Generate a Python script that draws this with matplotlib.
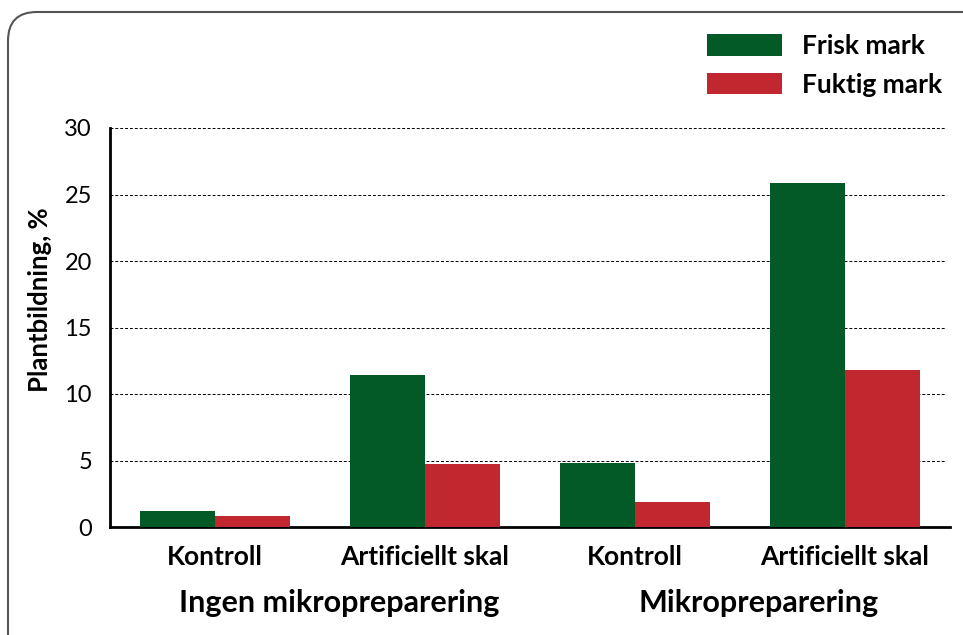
import matplotlib
matplotlib.use("Agg")
import matplotlib.pyplot as plt
from matplotlib.patches import FancyBboxPatch
import numpy as np

categories = ["Kontroll", "Artificiellt skal", "Kontroll", "Artificiellt skal"]
groups = ["Ingen mikropreparering", "Mikropreparering"]
series = ["Frisk mark", "Fuktig mark"]
frisk = [1.2, 11.4, 4.8, 25.9]
fuktig = [0.85, 4.75, 1.85, 11.8]
yticks = [0, 5, 10, 15, 20, 25, 30]

GREEN = "#035a27"
RED = "#c1272f"

plt.rcParams["font.family"] = ["Lato", "DejaVu Sans"]

fig = plt.figure(figsize=(9.63, 6.35), dpi=100)
ax = fig.add_axes([110 / 963, 1 - 527 / 635, 840 / 963, 399 / 635])

x = np.arange(len(categories))
width = 0.357
b1 = ax.bar(x - width / 2, frisk, width, color=GREEN, label=series[0], zorder=3)
b2 = ax.bar(x + width / 2, fuktig, width, color=RED, label=series[1], zorder=3)

ax.set_xlim(-0.5, 3.5)
ax.set_ylim(0, 30)
ax.set_yticks(yticks)
ax.set_yticklabels([str(t) for t in yticks], fontsize=17)
for t in yticks[1:]:
    ax.axhline(t, xmax=0.994, color="black", linestyle=(0, (3, 2)), linewidth=0.7, zorder=1)

ax.set_xticks(x)
ax.set_xticklabels(categories, fontsize=19, fontweight="bold")
ax.tick_params(axis="both", length=0)
ax.tick_params(axis="x", pad=13)
ax.tick_params(axis="y", pad=13)

for side in ("top", "right"):
    ax.spines[side].set_visible(False)
ax.spines["left"].set_linewidth(2)
ax.spines["bottom"].set_linewidth(2)

ax.set_ylabel("Plantbildning, %", fontsize=18.5, fontweight="bold")
ax.yaxis.set_label_coords(-0.069, 0.57)

trans = ax.get_xaxis_transform()
for i, name in enumerate(groups):
    center = x[2 * i:2 * i + 2].mean() + 0.09
    ax.text(center, -0.19, name, transform=trans, ha="center", va="center",
            fontsize=22, fontweight="bold")

ax.legend(handles=[b1, b2], loc="upper left", bbox_to_anchor=(707 / 963, 1 - 34 / 635),
          bbox_transform=fig.transFigure, frameon=False,
          prop={"weight": "bold", "size": 19}, handlelength=2.84, handleheight=0.87,
          handletextpad=0.75, labelspacing=0.55, borderpad=0, borderaxespad=0)

frame = FancyBboxPatch((8 / 963, -0.1), 1.2, 1 - 12 / 635 + 0.1,
                       boxstyle="round,pad=0,rounding_size=0.03",
                       transform=fig.transFigure, facecolor="none",
                       edgecolor="#555555", linewidth=1.5, mutation_aspect=963 / 635)
fig.patches.append(frame)

fig.savefig("out.png", dpi=100)
